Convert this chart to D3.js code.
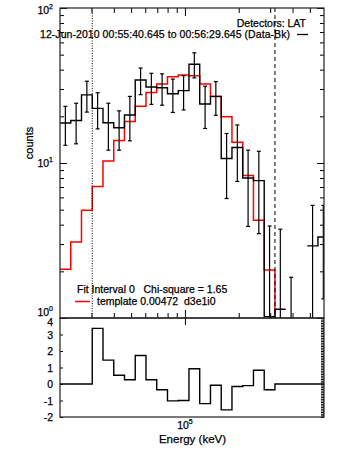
<!DOCTYPE html>
<html>
<head>
<meta charset="utf-8">
<script src="https://cdn.jsdelivr.net/npm/d3@7"></script>
<style>
body { margin: 0; background: #fff; }
text { font-family: "Liberation Sans", Arial, sans-serif; fill: #000; stroke: #000; stroke-width: 0.25px; }
</style>
</head>
<body>
<div id="chart"></div>
<script>
// energy bin edges (keV)
var binEdges = [20000, 22970, 26380, 30300, 34800, 39970, 45900, 52720, 60550, 69540,
    79870, 91730, 105360, 121000, 138980, 159620, 183320, 210550, 241820, 277730,
    318980, 366350, 420760, 483250, 555010, 637440]

// Data-Bk counts and 1-sigma errors per bin
var dataCounts = [18.1, 18.8, 27.5, 22.5, 18.2, 16.9, 20.4, 34.3, 30.9, 30.6,
    28.0, 29.3, 43.4, 24.0, 26.9, 10.7, 12.6, 8.0, 7.7, 1.02,
    1.14, -0.3, -0.5, 2.92, 3.33]
var dataErr = [5.1, 5.5, 6.2, 5.9, 6.1, 4.8, 6.5, 6.7, 7.0, 7.0,
    6.8, 7.3, 8.0, 7.3, 6.6, 4.8, 5.0, 4.1, 4.2, 2.9,
    2.6, 2.13, 1.0, 2.41, 2.0]

// template model counts (first 20 bins)
var modelCounts = [2.06, 3.09, 4.95, 7.06, 10.3, 13.95, 18.5, 23.2, 28.5, 32.3,
    36.0, 36.9, 36.5, 32.3, 26.9, 19.9, 13.6, 8.31, 4.27, 2.04]

// residuals (sigma) per bin
var residuals = [0, 0, 0, 3.37, 1.45, 0.53, 0.26, 1.73, 0.26, -0.35,
    -1.02, -1.0, 0.92, -1.19, -0.08, -1.57, -0.15, -0.1, 0.83, -0.35,
    0, 0, 0, 0, 0]

var fitInterval = [30300, 318980]

var yMajor = [1, 10, 100]
var yMajorExp = ["0", "1", "2"]
var yMinor = [2, 3, 4, 5, 6, 7, 8, 9, 20, 30, 40, 50, 60, 70, 80, 90]
var xMajor = [100000]
var xMajorExp = ["5"]
var xMinor = [30000, 40000, 50000, 60000, 70000, 80000, 90000, 200000, 300000, 400000, 500000]
var resTicks = [4, 3, 2, 1, 0, -1, -2]

var titleLine1 = "Detectors: LAT"
var titleLine2 = "12-Jun-2010 00:55:40.645 to 00:56:29.645 (Data-Bk)"
var legendLine1 = "Fit Interval 0   Chi-square = 1.65"
var legendLine2 = "template 0.00472  d3e1i0"

function draw_spectrum(config) {
    var width = config.width || 342
    var height = config.height || 456
    var left = 60, right = 324, top = 8, mid = 318, bottom = 417

    var svg = d3.select(config.placeholder).append("svg")
        .attr("width", width)
        .attr("height", height)

    var x = d3.scaleLog().domain([2e4, 6e5]).range([left, right])
    var y = d3.scaleLog().domain([1, 100]).range([mid, top])
    var yr = d3.scaleLinear().domain([-2, 4]).range([bottom, mid])

    var ySafe = function (v) { return y(Math.max(v, 0.05)) }

    var defs = svg.append("defs")
    defs.append("clipPath").attr("id", "clipMain")
        .append("rect").attr("x", left).attr("y", top)
        .attr("width", right - left).attr("height", mid - top)
    defs.append("clipPath").attr("id", "clipRes")
        .append("rect").attr("x", left).attr("y", mid)
        .attr("width", right - left).attr("height", bottom - mid)

    function stepPoints(vals) {
        var pts = []
        vals.forEach(function (v, i) {
            pts.push({ x0: binEdges[i], v: v })
            pts.push({ x0: binEdges[i + 1], v: v })
        })
        return pts
    }

    var main = svg.append("g").attr("clip-path", "url(#clipMain)")

    // model (drops to the floor at the end of the fit interval)
    var mPts = stepPoints(modelCounts)
    mPts.push({ x0: binEdges[modelCounts.length], v: 0.05 })
    main.append("path")
        .attr("d", d3.line().x(function (d) { return x(d.x0) }).y(function (d) { return ySafe(d.v) })(mPts))
        .attr("fill", "none")
        .attr("stroke", "#ff0000")
        .attr("stroke-width", 1.5)

    // data histogram, broken where counts are not positive
    main.append("path")
        .attr("d", d3.line()
            .defined(function (d) { return d.v > 0 })
            .x(function (d) { return x(d.x0) })
            .y(function (d) { return y(d.v) })(stepPoints(dataCounts)))
        .attr("fill", "none")
        .attr("stroke", "#000")
        .attr("stroke-width", 1.4)

    // error bars
    var eb = main.selectAll("g.err")
        .data(dataCounts)
        .enter().append("g")
        .attr("class", "err")
        .attr("stroke", "#000")
        .attr("stroke-width", 1.2)
    eb.each(function (d, i) {
        var g = d3.select(this)
        var cx = x(Math.sqrt(binEdges[i] * binEdges[i + 1]))
        var y0 = ySafe(d + dataErr[i]), y1 = ySafe(d - dataErr[i])
        g.append("line").attr("x1", cx).attr("x2", cx).attr("y1", y0).attr("y2", y1)
        g.append("line").attr("x1", cx - 2).attr("x2", cx + 2).attr("y1", y0).attr("y2", y0)
        g.append("line").attr("x1", cx - 2).attr("x2", cx + 2).attr("y1", y1).attr("y2", y1)
    })

    // fit interval markers
    main.append("line")
        .attr("x1", x(fitInterval[0])).attr("x2", x(fitInterval[0]))
        .attr("y1", top).attr("y2", mid)
        .attr("stroke", "#000").attr("stroke-width", 1)
        .attr("stroke-dasharray", "1,1.5")
    main.append("line")
        .attr("x1", x(fitInterval[1])).attr("x2", x(fitInterval[1]))
        .attr("y1", top).attr("y2", mid)
        .attr("stroke", "#000").attr("stroke-width", 1)
        .attr("stroke-dasharray", "4,3")

    // residuals
    svg.append("g").attr("clip-path", "url(#clipRes)")
        .append("path")
        .attr("d", d3.line().x(function (d) { return x(d.x0) }).y(function (d) { return yr(d.v) })(stepPoints(residuals)))
        .attr("fill", "none")
        .attr("stroke", "#000")
        .attr("stroke-width", 1.4)

    // axes (ticks only, inward)
    function ticks(axis, tx, ty) {
        var g = svg.append("g").attr("transform", "translate(" + tx + "," + ty + ")")
            .call(axis.tickFormat(""))
        g.select(".domain").remove()
        g.selectAll(".tick line").attr("stroke", "#000").attr("stroke-width", 1)
        return g
    }
    ticks(d3.axisRight(y).tickValues(yMajor).tickSize(7), left, 0)
    ticks(d3.axisRight(y).tickValues(yMinor).tickSize(4), left, 0)
    ticks(d3.axisLeft(y).tickValues(yMajor).tickSize(7), right, 0)
    ticks(d3.axisLeft(y).tickValues(yMinor).tickSize(4), right, 0)
    ticks(d3.axisBottom(x).tickValues(xMajor).tickSize(8), 0, top)
    ticks(d3.axisBottom(x).tickValues(xMinor).tickSize(5), 0, top)
    ticks(d3.axisTop(x).tickValues(xMajor).tickSize(8), 0, mid)
    ticks(d3.axisTop(x).tickValues(xMinor).tickSize(5), 0, mid)
    ticks(d3.axisBottom(x).tickValues(xMajor).tickSize(7), 0, mid)
    ticks(d3.axisRight(yr).tickValues(resTicks).tickSize(3), left, 0)
    ticks(d3.axisLeft(yr).tickValues(yr.ticks(60)).tickSize(3), right, 0)

    // frames
    svg.append("rect").attr("x", left).attr("y", top)
        .attr("width", right - left).attr("height", mid - top)
        .attr("fill", "none").attr("stroke", "#222").attr("stroke-width", 1.2)
    svg.append("rect").attr("x", left).attr("y", mid)
        .attr("width", right - left).attr("height", bottom - mid)
        .attr("fill", "none").attr("stroke", "#222").attr("stroke-width", 1.2)

    // tick labels
    var fs = 10.5
    yMajor.forEach(function (v, i) {
        var dy = v === 1 ? -2 : (v === 100 ? 6 : 4)
        var t = svg.append("text")
            .attr("x", 53).attr("y", y(v) + dy)
            .attr("text-anchor", "end")
            .attr("font-size", fs)
        t.append("tspan").text("10")
        t.append("tspan").attr("font-size", 7).attr("dy", -5).text(yMajorExp[i])
    })
    resTicks.forEach(function (v) {
        svg.append("text")
            .attr("x", 53).attr("y", yr(v) + (v === 4 ? 8 : 4))
            .attr("text-anchor", "end")
            .attr("font-size", fs)
            .text(v)
    })
    xMajor.forEach(function (v, i) {
        var t = svg.append("text")
            .attr("x", x(v)).attr("y", bottom + 12)
            .attr("text-anchor", "middle")
            .attr("font-size", fs)
        t.append("tspan").text("10")
        t.append("tspan").attr("font-size", 7).attr("dy", -5).text(xMajorExp[i])
    })

    // axis titles
    svg.append("text")
        .attr("x", (left + right) / 2 + 0.5).attr("y", 443)
        .attr("text-anchor", "middle")
        .attr("font-size", 11.5)
        .text("Energy (keV)")
    svg.append("text")
        .attr("transform", "translate(33," + ((top + mid) / 2 - 20) + ") rotate(-90)")
        .attr("text-anchor", "middle")
        .attr("font-size", 11)
        .text("counts")

    // header
    svg.append("text")
        .attr("x", 306).attr("y", 27)
        .attr("text-anchor", "end")
        .attr("font-size", fs)
        .text(titleLine1)
    svg.append("text")
        .attr("x", 40).attr("y", 38)
        .attr("font-size", fs)
        .attr("textLength", 250)
        .text(titleLine2)
    svg.append("line")
        .attr("x1", 297).attr("x2", 308).attr("y1", 34.5).attr("y2", 34.5)
        .attr("stroke", "#000").attr("stroke-width", 1.3)

    // legend
    svg.append("text")
        .attr("x", 77).attr("y", 293)
        .attr("font-size", fs)
        .style("white-space", "pre")
        .text(legendLine1)
    svg.append("line")
        .attr("x1", 75).attr("x2", 90).attr("y1", 301.5).attr("y2", 301.5)
        .attr("stroke", "#ff0000").attr("stroke-width", 1.5)
    svg.append("text")
        .attr("x", 97).attr("y", 305)
        .attr("font-size", fs)
        .style("white-space", "pre")
        .text(legendLine2)
}

var config = {}
config.placeholder = '#chart'

draw_spectrum(config)
</script>
</body>
</html>
